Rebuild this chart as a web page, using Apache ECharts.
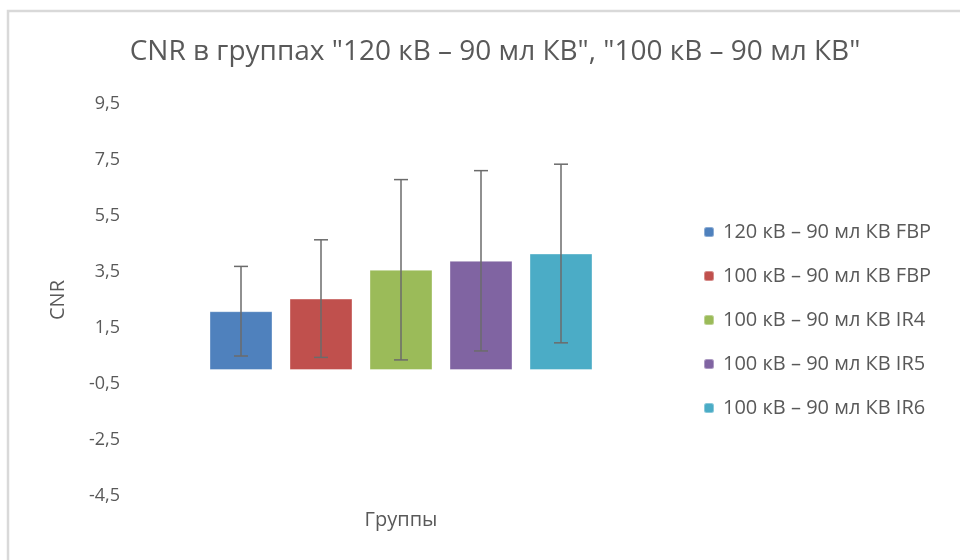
<!DOCTYPE html>
<html>
<head>
<meta charset="utf-8">
<title>CNR</title>
<script src="https://cdn.jsdelivr.net/npm/echarts@6/dist/echarts.min.js"></script>
<style>
	html,body{margin:0;padding:0;background:#fff;}
	#chart{width:960px;height:560px;}
</style>
</head>
<body>
<div id="chart"></div>
<script>
// groups (one bar per group)
var groups=['120 кВ – 90 мл КВ FBP','100 кВ – 90 мл КВ FBP','100 кВ – 90 мл КВ IR4','100 кВ – 90 мл КВ IR5','100 кВ – 90 мл КВ IR6'];
// mean CNR and standard deviation
var means=[2.1,2.55,3.58,3.9,4.16];
var sds=[1.6,2.1,3.22,3.22,3.19];
var colors=['#4F81BD','#C0504D','#9BBB59','#8064A2','#4BACC6'];
// y axis ticks: -4.5 ... 9.5 step 2
var yMin=-4.5;
var yMax=9.5;
var yStep=2;

function fmt(v){
	return v.toFixed(1).replace('.',',');
}

function loadChart(){
	var myChart=echarts.init(document.getElementById('chart'));
	var series=[];
	for(var i=0;i<groups.length;i++){
		var d=[];
		for(var j=0;j<groups.length;j++){
			d.push(j==i?means[i]:'-');
		}
		series.push({
			name:groups[i],
			type:'bar',
			stack:'all',
			barWidth:63,
			data:d,
			itemStyle:{color:colors[i],borderColor:'rgba(255,255,255,0.35)',borderWidth:1}
		});
	}
	// error bars
	var errData=[];
	for(var k=0;k<means.length;k++){
		errData.push([k,means[k]-sds[k],means[k]+sds[k]]);
	}
	series.push({
		type:'custom',
		name:'err',
		silent:true,
		z:10,
		data:errData,
		renderItem:function(params,api){
			var lo=api.coord([api.value(0),api.value(1)]);
			var hi=api.coord([api.value(0),api.value(2)]);
			var w=7;
			var st={stroke:'#6b6b6b',lineWidth:1.5};
			return {
				type:'group',
				children:[
					{type:'line',shape:{x1:hi[0],y1:hi[1],x2:lo[0],y2:lo[1]},style:st},
					{type:'line',shape:{x1:hi[0]-w,y1:hi[1],x2:hi[0]+w,y2:hi[1]},style:st},
					{type:'line',shape:{x1:lo[0]-w,y1:lo[1],x2:lo[0]+w,y2:lo[1]},style:st}
				]
			};
		},
		encode:{x:0,y:[1,2]}
	});

	var option={
		textStyle:{fontFamily:'Open Sans'},
		title:{
			text:'CNR в группах "120 кВ – 90 мл КВ", "100 кВ – 90 мл КВ"',
			left:490,
			top:33,
			textAlign:'center',
			textStyle:{fontSize:28,fontWeight:'normal',color:'#595959',fontFamily:'Open Sans'}
		},
		graphic:[{
			type:'rect',
			shape:{x:8,y:11,width:1000,height:600},
			style:{fill:'none',stroke:'#d9d9d9',lineWidth:2.5}
		}],
		legend:{
			orient:'vertical',
			left:698,
			top:217,
			itemWidth:10,
			itemHeight:10,
			itemGap:24,
			data:groups,
			textStyle:{fontSize:20,color:'#595959',fontFamily:'Open Sans',padding:[0,0,0,4]}
		},
		grid:{
			left:201,
			right:359,
			top:104,
			bottom:64
		},
		xAxis:{
			type:'category',
			data:groups,
			name:'Группы',
			nameLocation:'middle',
			nameGap:14,
			nameTextStyle:{fontSize:20,color:'#595959'},
			axisLine:{show:false},
			axisTick:{show:false},
			axisLabel:{show:false}
		},
		yAxis:{
			type:'value',
			min:yMin,
			max:yMax,
			interval:yStep,
			name:'CNR',
			nameLocation:'middle',
			nameGap:133,
			nameMoveOverlap:false,
			nameTextStyle:{fontSize:20,color:'#595959'},
			axisLine:{show:false},
			axisTick:{show:false},
			splitLine:{show:false},
			axisLabel:{
				formatter:fmt,
				fontSize:18,
				color:'#595959',
				margin:81
			}
		},
		series:series
	};
	myChart.setOption(option);
}
loadChart();
</script>
</body>
</html>
